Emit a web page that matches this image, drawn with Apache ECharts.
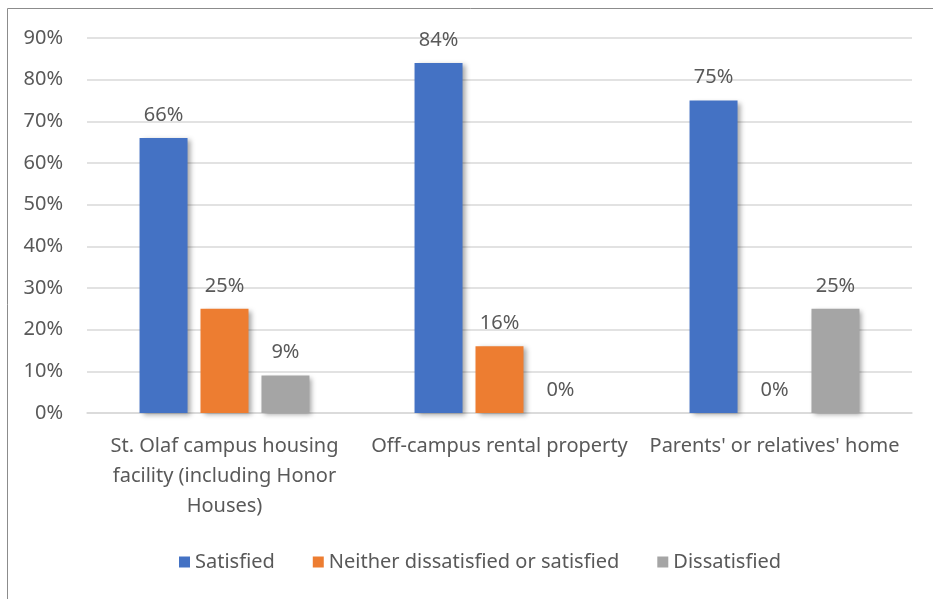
<!DOCTYPE html>
<html><head><meta charset="utf-8">
<script src="https://cdn.jsdelivr.net/npm/echarts@6/dist/echarts.min.js"></script>
<style>html,body{margin:0;padding:0;background:#fff}#c{width:933px;height:599px}</style>
</head><body><div id="c"></div>
<script>
const categories = ['St. Olaf campus housing\nfacility (including Honor\nHouses)', 'Off-campus rental property', "Parents' or relatives' home"];
const seriesNames = ['Satisfied', 'Neither dissatisfied or satisfied', 'Dissatisfied'];
const satisfied = [66, 84, 75];
const neither = [25, 16, 0];
const dissatisfied = [9, 0, 25];
const colors = ['#4472C4', '#ED7D31', '#A5A5A5'];
const FONT = 'Noto Sans';
const FS = 20;
const TXT = '#595959';

const chart = echarts.init(document.getElementById('c'), null, {renderer: 'canvas'});
function mk(name, data, color) {
  return {
    name, type: 'bar', data, barWidth: 48, barGap: '27%',
    itemStyle: {color, shadowColor: 'rgba(0,0,0,0.35)', shadowBlur: 5, shadowOffsetX: 3, shadowOffsetY: 2},
    label: {show: true, position: 'top', distance: 13, formatter: p => p.value + '%', color: TXT, fontFamily: FONT, fontSize: FS},
    emphasis: {disabled: true}
  };
}
chart.setOption({
  animation: false,
  textStyle: {fontFamily: FONT},
  graphic: [{type: 'rect', shape: {x: 7.5, y: 8.5, width: 940, height: 600}, style: {fill: 'none', stroke: '#8c8c8c', lineWidth: 1}, z: -1}],
  grid: {left: 87, right: 21, top: 38, bottom: 186},
  legend: {
    data: seriesNames, bottom: 22, left: 174, itemWidth: 11, itemHeight: 11, itemGap: 38, icon: 'rect',
    textStyle: {color: TXT, fontFamily: FONT, fontSize: FS}
  },
  xAxis: {
    type: 'category', data: categories,
    axisTick: {show: false},
    axisLine: {lineStyle: {color: '#d9d9d9', width: 1.5}},
    axisLabel: {color: TXT, fontFamily: FONT, fontSize: FS, lineHeight: 30, margin: 18, interval: 0}
  },
  yAxis: {
    type: 'value', min: 0, max: 90, interval: 10,
    axisLabel: {formatter: v => v + '%', color: TXT, fontFamily: FONT, fontSize: FS, margin: 24},
    splitLine: {lineStyle: {color: '#d9d9d9', width: 1.5}},
    axisLine: {show: false}, axisTick: {show: false}
  },
  series: [mk(seriesNames[0], satisfied, colors[0]), mk(seriesNames[1], neither, colors[1]), mk(seriesNames[2], dissatisfied, colors[2])]
});
</script></body></html>
